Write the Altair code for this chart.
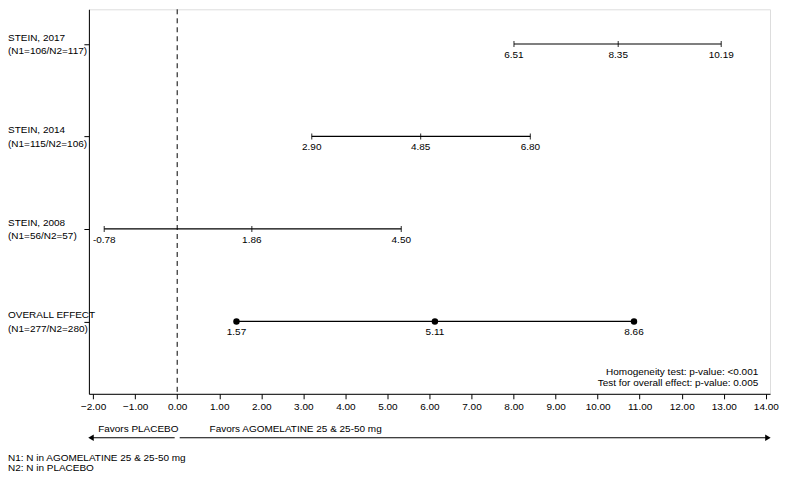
import altair as alt
import pandas as pd

# ---- data ----
studies = ["STEIN, 2017", "STEIN, 2014", "STEIN, 2008", "OVERALL EFFECT"]
sizes = ["(N1=106/N2=117)", "(N1=115/N2=106)", "(N1=56/N2=57)", "(N1=277/N2=280)"]
rows = [4, 3, 2, 1]
kinds = ["study", "study", "study", "overall"]
# positions as drawn against the x axis
low_pos = [8.01, 3.20, -1.735, 1.41]
mid_pos = [10.49, 5.79, 1.775, 6.13]
high_pos = [12.94, 8.40, 5.33, 10.865]
# printed value labels
low_lab = ["6.51", "2.90", "-0.78", "1.57"]
mid_lab = ["8.35", "4.85", "1.86", "5.11"]
high_lab = ["10.19", "6.80", "4.50", "8.66"]

x_ticks = list(range(-2, 15))
stats_lines = ["Homogeneity test: p-value: <0.001", "Test for overall effect: p-value: 0.005"]
favors_text = ["Favors PLACEBO", "Favors AGOMELATINE 25 & 25-50 mg"]
favors_start = [-1.88, 0.77]
arrow_from = [-0.06, 0.06]
arrow_to = [-2.05, 14.05]
arrow_shape = ["triangle-left", "triangle-right"]
footnotes = ["N1: N in AGOMELATINE 25 & 25-50 mg", "N2: N in PLACEBO"]

FONT = "Liberation Sans"
FS = 10
W, H = 682, 385

rows_df = pd.DataFrame({"study": studies, "n": sizes, "row": rows, "kind": kinds,
                        "low": low_pos, "high": high_pos})
pts = []
for i in range(len(studies)):
    for p, l in ((low_pos[i], low_lab[i]), (mid_pos[i], mid_lab[i]), (high_pos[i], high_lab[i])):
        pts.append({"row": rows[i], "pos": p, "label": l, "kind": kinds[i]})
pts_df = pd.DataFrame(pts)

x_scale = alt.Scale(domain=[-2.1, 14.1], nice=False, zero=False)
y_scale = alt.Scale(domain=[0.217, 4.375], nice=False, zero=False)

x_axis = alt.Axis(values=x_ticks, format=".2f", title=None, grid=False, tickSize=5,
                  labelFontSize=FS, labelPadding=3, labelFont=FONT, labelColor="black",
                  domainColor="black", tickColor="black", labelFlush=False)
y_axis = alt.Axis(values=rows, labels=False, title=None, grid=False, tickSize=5,
                  domainColor="black", tickColor="black")

X = lambda f: alt.X(f, scale=x_scale)
Y = lambda f: alt.Y(f, scale=y_scale)
txt = dict(fontSize=FS, font=FONT, color="black")

bars = alt.Chart(rows_df).mark_rule(color="black", strokeWidth=1.2).encode(
    x=alt.X("low:Q", scale=x_scale, axis=x_axis), x2="high:Q",
    y=alt.Y("row:Q", scale=y_scale, axis=y_axis))

ticks = alt.Chart(pts_df).transform_filter("datum.kind == 'study'").mark_tick(
    orient="vertical", size=6, thickness=1.2, color="black").encode(
    x=X("pos:Q"), y=Y("row:Q"))

dots = alt.Chart(pts_df).transform_filter("datum.kind == 'overall'").mark_circle(
    size=42, color="black", opacity=1).encode(x=X("pos:Q"), y=Y("row:Q"))

vals = alt.Chart(pts_df).mark_text(dy=11, **txt).encode(
    x=X("pos:Q"), y=Y("row:Q"), text="label:N")

zero = alt.Chart(pd.DataFrame({"x": [0]})).mark_rule(
    color="black", strokeDash=[5, 4], strokeWidth=1).encode(
    x=X("x:Q"), y=alt.value(0), y2=alt.value(H))

lab1 = alt.Chart(rows_df).mark_text(align="left", dy=-6, **txt).encode(
    x=alt.value(-81), y=Y("row:Q"), text="study:N")
lab2 = alt.Chart(rows_df).mark_text(align="left", dy=7.5, **txt).encode(
    x=alt.value(-81), y=Y("row:Q"), text="n:N")

stats_df = pd.DataFrame({"t": stats_lines, "x": [13.82, 13.82], "yy": [363, 373.7]})
stats = alt.Chart(stats_df).mark_text(align="right", **txt).encode(
    x=X("x:Q"), y=alt.Y("yy:Q", scale=None), text="t:N")

fav_df = pd.DataFrame({"t": favors_text, "x": favors_start})
fav = alt.Chart(fav_df).mark_text(align="left", **txt).encode(
    x=X("x:Q"), y=alt.value(420), text="t:N")

arr_df = pd.DataFrame({"a": arrow_from, "b": arrow_to, "shape": arrow_shape})
arrows = alt.Chart(arr_df).mark_rule(color="black", strokeWidth=1.2).encode(
    x=X("a:Q"), x2="b:Q", y=alt.value(429))
heads = alt.Chart(arr_df).mark_point(filled=True, size=40, color="black", opacity=1).encode(
    x=X("b:Q"), y=alt.value(429),
    shape=alt.Shape("shape:N", scale=None, legend=None))

foot_df = pd.DataFrame({"t": footnotes, "yy": [449.5, 459.5]})
foot = alt.Chart(foot_df).mark_text(align="left", **txt).encode(
    x=alt.value(-81), y=alt.Y("yy:Q", scale=None), text="t:N")

chart = alt.layer(bars, zero, ticks, dots, vals, lab1, lab2, stats, fav, arrows, heads, foot).properties(
    width=W, height=H, padding=0, background="white"
).configure_view(stroke="#888888", strokeWidth=1.5).configure(font=FONT)

chart.save("out.html", embed_options={"renderer": "svg", "actions": False})
